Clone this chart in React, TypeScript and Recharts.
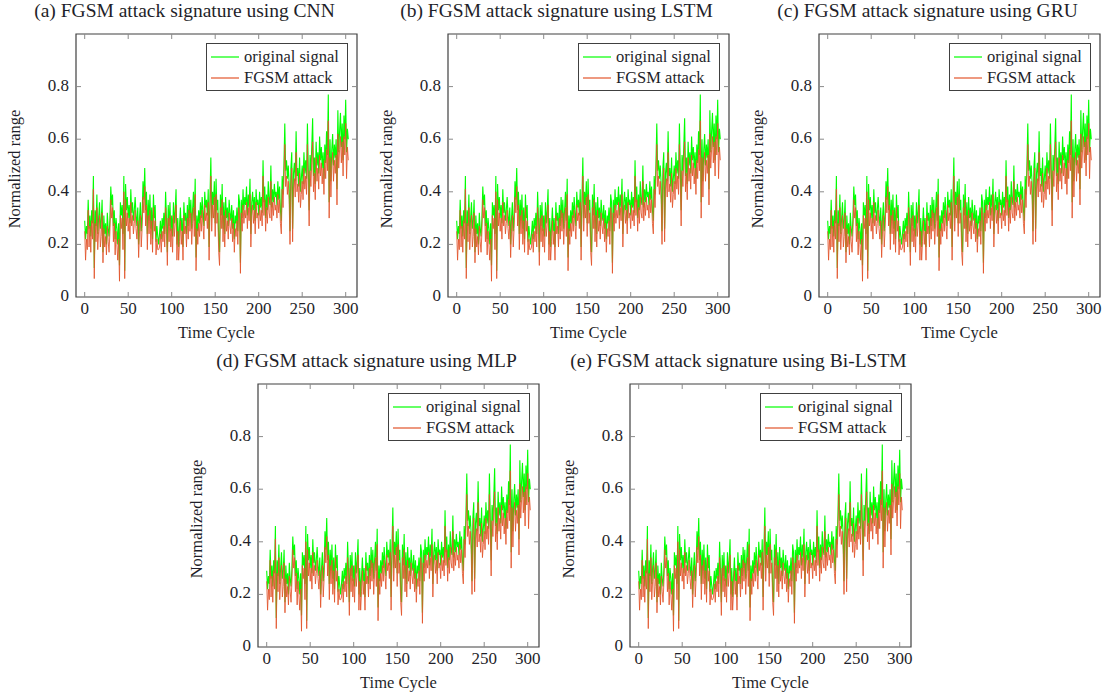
import React from "react";
import { LineChart, Line, XAxis, YAxis, ReferenceArea } from "recharts";

// ---- data (all five panels show the same signal) ----
const originalSignal: number[] = [
  0.29, 0.22, 0.27, 0.24, 0.37, 0.26, 0.31, 0.23, 0.33, 0.28,
  0.46, 0.11, 0.33, 0.27, 0.39, 0.24, 0.30, 0.36, 0.26, 0.29,
  0.37, 0.17, 0.31, 0.24, 0.28, 0.20, 0.32, 0.26, 0.23, 0.30,
  0.42, 0.35, 0.39, 0.27, 0.33, 0.22, 0.30, 0.26, 0.20, 0.28,
  0.12, 0.36, 0.31, 0.35, 0.24, 0.46, 0.10, 0.43, 0.33, 0.38,
  0.30, 0.35, 0.28, 0.41, 0.32, 0.36, 0.29, 0.33, 0.38, 0.31,
  0.27, 0.34, 0.20, 0.30, 0.36, 0.25, 0.31, 0.44, 0.37, 0.49,
  0.33, 0.40, 0.24, 0.37, 0.29, 0.39, 0.26, 0.34, 0.22, 0.39,
  0.30, 0.35, 0.21, 0.27, 0.23, 0.20, 0.24, 0.29, 0.22, 0.30,
  0.26, 0.32, 0.24, 0.40, 0.30, 0.17, 0.35, 0.27, 0.36, 0.25,
  0.31, 0.23, 0.36, 0.28, 0.33, 0.41, 0.20, 0.30, 0.19, 0.27,
  0.34, 0.25, 0.30, 0.19, 0.36, 0.29, 0.32, 0.24, 0.35, 0.27,
  0.38, 0.30, 0.37, 0.26, 0.33, 0.40, 0.29, 0.45, 0.15, 0.31,
  0.25, 0.33, 0.28, 0.36, 0.30, 0.38, 0.32, 0.27, 0.40, 0.34,
  0.37, 0.31, 0.41, 0.19, 0.38, 0.53, 0.30, 0.40, 0.35, 0.44,
  0.28, 0.45, 0.33, 0.37, 0.22, 0.17, 0.39, 0.31, 0.43, 0.26,
  0.36, 0.24, 0.38, 0.30, 0.34, 0.27, 0.37, 0.32, 0.29, 0.35,
  0.26, 0.33, 0.22, 0.31, 0.28, 0.34, 0.25, 0.39, 0.36, 0.13,
  0.37, 0.30, 0.41, 0.33, 0.38, 0.35, 0.42, 0.31, 0.39, 0.34,
  0.45, 0.24, 0.36, 0.40, 0.33, 0.38, 0.29, 0.41, 0.35, 0.37,
  0.31, 0.40, 0.34, 0.38, 0.32, 0.52, 0.36, 0.42, 0.30, 0.39,
  0.33, 0.44, 0.37, 0.35, 0.50, 0.34, 0.41, 0.36, 0.43, 0.38,
  0.40, 0.35, 0.44, 0.37, 0.42, 0.33, 0.29, 0.46, 0.39, 0.50,
  0.66, 0.48, 0.52, 0.45, 0.50, 0.43, 0.25, 0.49, 0.55, 0.26,
  0.47, 0.51, 0.44, 0.63, 0.46, 0.49, 0.42, 0.53, 0.40, 0.45,
  0.50, 0.43, 0.55, 0.47, 0.52, 0.45, 0.66, 0.49, 0.33, 0.54,
  0.48, 0.57, 0.68, 0.46, 0.53, 0.43, 0.59, 0.50, 0.55, 0.47,
  0.61, 0.52, 0.57, 0.49, 0.55, 0.45, 0.58, 0.51, 0.63, 0.54,
  0.77, 0.36, 0.60, 0.44, 0.56, 0.62, 0.50, 0.58, 0.53, 0.60,
  0.41, 0.71, 0.55, 0.63, 0.70, 0.57, 0.66, 0.52, 0.69, 0.60,
  0.75, 0.55, 0.64, 0.60,
];

const fgsmAttack: number[] = [
  0.25, 0.14, 0.22, 0.18, 0.33, 0.19, 0.27, 0.17, 0.29, 0.22,
  0.41, 0.07, 0.28, 0.21, 0.34, 0.18, 0.25, 0.31, 0.19, 0.23,
  0.32, 0.13, 0.26, 0.19, 0.23, 0.16, 0.27, 0.21, 0.17, 0.25,
  0.37, 0.30, 0.34, 0.21, 0.28, 0.16, 0.25, 0.20, 0.14, 0.22,
  0.06, 0.31, 0.26, 0.30, 0.18, 0.40, 0.07, 0.37, 0.27, 0.32,
  0.25, 0.30, 0.22, 0.36, 0.27, 0.31, 0.24, 0.28, 0.33, 0.26,
  0.22, 0.29, 0.15, 0.25, 0.31, 0.19, 0.26, 0.38, 0.32, 0.42,
  0.27, 0.35, 0.18, 0.31, 0.24, 0.33, 0.20, 0.29, 0.17, 0.34,
  0.25, 0.29, 0.16, 0.22, 0.18, 0.18, 0.19, 0.24, 0.17, 0.25,
  0.21, 0.27, 0.19, 0.34, 0.25, 0.12, 0.30, 0.21, 0.31, 0.19,
  0.26, 0.17, 0.31, 0.23, 0.28, 0.35, 0.14, 0.25, 0.14, 0.21,
  0.29, 0.20, 0.25, 0.14, 0.31, 0.24, 0.27, 0.19, 0.30, 0.22,
  0.33, 0.25, 0.32, 0.20, 0.28, 0.34, 0.23, 0.39, 0.10, 0.26,
  0.20, 0.28, 0.23, 0.31, 0.25, 0.33, 0.27, 0.22, 0.35, 0.29,
  0.32, 0.26, 0.36, 0.14, 0.33, 0.46, 0.25, 0.35, 0.30, 0.38,
  0.23, 0.39, 0.28, 0.32, 0.17, 0.12, 0.34, 0.26, 0.37, 0.21,
  0.31, 0.19, 0.33, 0.25, 0.29, 0.22, 0.32, 0.27, 0.24, 0.30,
  0.21, 0.28, 0.17, 0.26, 0.23, 0.29, 0.20, 0.34, 0.31, 0.09,
  0.32, 0.25, 0.35, 0.28, 0.33, 0.30, 0.36, 0.26, 0.34, 0.29,
  0.39, 0.19, 0.31, 0.35, 0.28, 0.33, 0.24, 0.36, 0.30, 0.32,
  0.26, 0.35, 0.29, 0.33, 0.27, 0.46, 0.31, 0.37, 0.25, 0.34,
  0.28, 0.38, 0.32, 0.30, 0.44, 0.29, 0.36, 0.31, 0.38, 0.33,
  0.35, 0.30, 0.39, 0.32, 0.37, 0.28, 0.24, 0.41, 0.34, 0.45,
  0.58, 0.42, 0.46, 0.39, 0.44, 0.37, 0.20, 0.43, 0.49, 0.21,
  0.41, 0.45, 0.38, 0.55, 0.40, 0.43, 0.36, 0.47, 0.34, 0.39,
  0.44, 0.37, 0.49, 0.41, 0.46, 0.39, 0.58, 0.43, 0.27, 0.48,
  0.42, 0.51, 0.59, 0.40, 0.47, 0.37, 0.53, 0.44, 0.49, 0.41,
  0.54, 0.46, 0.51, 0.43, 0.49, 0.39, 0.52, 0.45, 0.56, 0.48,
  0.67, 0.30, 0.53, 0.38, 0.50, 0.55, 0.44, 0.52, 0.47, 0.54,
  0.35, 0.62, 0.49, 0.56, 0.61, 0.51, 0.59, 0.46, 0.61, 0.54,
  0.66, 0.45, 0.57, 0.52,
];

const xTicks: number[] = [0, 50, 100, 150, 200, 250, 300];
const yTicks: number[] = [0, 0.2, 0.4, 0.6, 0.8];
const panelTitles: string[] = [
  "(a) FGSM attack signature using CNN",
  "(b) FGSM attack signature using LSTM",
  "(c) FGSM attack signature using GRU",
  "(d) FGSM attack signature using MLP",
  "(e) FGSM attack signature using Bi-LSTM",
];
const seriesNames: string[] = ["original signal", "FGSM attack"];
const xLabel = "Time Cycle";
const yLabel = "Normalized range";

const tableData = originalSignal.map((v, i) => ({ x: i, orig: v, atk: fgsmAttack[i] }));

// ---- layout / style ----
const FONT = "Liberation Serif, Times New Roman, serif";
const TEXT = "#1f1f2a";
const GREEN = "#00ff00";
const ORANGE = "#e2542a";
const FRAME = "#404040";
const TICK = "#8a8a8a";
const PLOT_W = 281;
const PLOT_H = 263;
const AXIS_W = 20;
const M = { left: 60, top: 12, right: 12, bottom: 40 };
const PLOT_LEFT = M.left + AXIS_W;
const PLOT_TOP = M.top;
const TICK_LEN = 5;
const TICK_FONT = 17;

const framePositions = [
  { left: 76, top: 34 },
  { left: 448, top: 34 },
  { left: 819, top: 34 },
  { left: 258, top: 384 },
  { left: 630, top: 384 },
];

const renderXTick = (props: any) => {
  const { x, payload } = props;
  const bottom = PLOT_TOP + PLOT_H;
  return (
    <g key={`xt-${payload.value}`}>
      <line x1={x} x2={x} y1={bottom} y2={bottom - TICK_LEN} stroke={TICK} strokeWidth={1} />
      <line x1={x} x2={x} y1={PLOT_TOP} y2={PLOT_TOP + TICK_LEN} stroke={TICK} strokeWidth={1} />
      <text
        x={x}
        y={bottom + 13}
        textAnchor="middle"
        dominantBaseline="middle"
        style={{ fontFamily: FONT, fontSize: TICK_FONT }}
        fill={TEXT}
      >
        {String(payload.value)}
      </text>
    </g>
  );
};

const renderYTick = (props: any) => {
  const { y, payload } = props;
  const right = PLOT_LEFT + PLOT_W;
  return (
    <g key={`yt-${payload.value}`}>
      {payload.value !== 0 && (
        <>
          <line x1={PLOT_LEFT} x2={PLOT_LEFT + TICK_LEN} y1={y} y2={y} stroke={TICK} strokeWidth={1} />
          <line x1={right} x2={right - TICK_LEN} y1={y} y2={y} stroke={TICK} strokeWidth={1} />
        </>
      )}
      <text
        x={PLOT_LEFT - 7}
        y={y}
        textAnchor="end"
        dominantBaseline="middle"
        style={{ fontFamily: FONT, fontSize: TICK_FONT }}
        fill={TEXT}
      >
        {String(payload.value)}
      </text>
    </g>
  );
};

function Panel({ index }: { index: number }) {
  const pos = framePositions[index];
  const chartLeft = pos.left - PLOT_LEFT;
  const chartTop = pos.top - PLOT_TOP;
  const W = PLOT_W + PLOT_LEFT + M.right;
  const H = PLOT_H + M.top + AXIS_W + M.bottom;
  const titleCx = pos.left + 108.5;
  const frameCx = pos.left + PLOT_W / 2;
  return (
    <>
      <div
        style={{
          position: "absolute",
          left: titleCx,
          top: pos.top - 23,
          transform: "translate(-50%, -50%)",
          whiteSpace: "nowrap",
          fontFamily: FONT,
          fontSize: 19.5,
          color: TEXT,
        }}
      >
        {panelTitles[index]}
      </div>
      <div style={{ position: "absolute", left: chartLeft, top: chartTop, fontFamily: FONT }}>
        <LineChart width={W} height={H} data={tableData} margin={M}>
          <XAxis
            dataKey="x"
            type="number"
            domain={[-10, 313]}
            ticks={xTicks}
            allowDataOverflow
            height={AXIS_W}
            tickLine={false}
            axisLine={false}
            tick={renderXTick}
            interval={0}
          />
          <YAxis
            type="number"
            domain={[0, 1]}
            ticks={yTicks}
            allowDataOverflow
            width={AXIS_W}
            tickLine={false}
            axisLine={false}
            tick={renderYTick}
            interval={0}
          />
          <Line
            dataKey="orig"
            name={seriesNames[0]}
            stroke={GREEN}
            strokeWidth={1.1}
            dot={false}
            isAnimationActive={false}
          />
          <Line
            dataKey="atk"
            name={seriesNames[1]}
            stroke={ORANGE}
            strokeOpacity={0.85}
            strokeWidth={1}
            dot={false}
            isAnimationActive={false}
          />
          <ReferenceArea x1={-10} x2={313} y1={0} y2={1} fill="none" stroke={FRAME} strokeWidth={1.2} />
        </LineChart>
      </div>
      {/* legend */}
      <div
        style={{
          position: "absolute",
          left: pos.left + 130,
          top: pos.top + 9,
          width: 142,
          height: 48,
          boxSizing: "border-box",
          border: `1px solid ${FRAME}`,
          background: "#ffffff",
          fontFamily: FONT,
          fontSize: 16.5,
          color: TEXT,
        }}
      >
        {[GREEN, ORANGE].map((c, i) => (
          <div
            key={i}
            style={{ position: "absolute", left: 4, top: 3 + i * 21, height: 20, display: "flex", alignItems: "center", whiteSpace: "nowrap" }}
          >
            <svg width={28} height={4} style={{ marginRight: 5 }}>
              <line x1={0} x2={28} y1={2} y2={2} stroke={c} strokeWidth={1.2} />
            </svg>
            <span>{seriesNames[i]}</span>
          </div>
        ))}
      </div>
      {/* axis labels */}
      <div
        style={{
          position: "absolute",
          left: frameCx,
          top: pos.top + PLOT_H + 36,
          transform: "translate(-50%, -50%)",
          whiteSpace: "nowrap",
          fontFamily: FONT,
          fontSize: 16.5,
          color: TEXT,
        }}
      >
        {xLabel}
      </div>
      <div
        style={{
          position: "absolute",
          left: pos.left - 61,
          top: pos.top + PLOT_H / 2 + 3,
          transform: "translate(-50%, -50%) rotate(-90deg)",
          whiteSpace: "nowrap",
          fontFamily: FONT,
          fontSize: 16.5,
          color: TEXT,
        }}
      >
        {yLabel}
      </div>
    </>
  );
}

export default function App() {
  return (
    <div style={{ position: "absolute", left: 0, top: 0, width: 1117, height: 700, background: "#ffffff", overflow: "hidden" }}>
      {panelTitles.map((_, i) => (
        <Panel key={i} index={i} />
      ))}
    </div>
  );
}
